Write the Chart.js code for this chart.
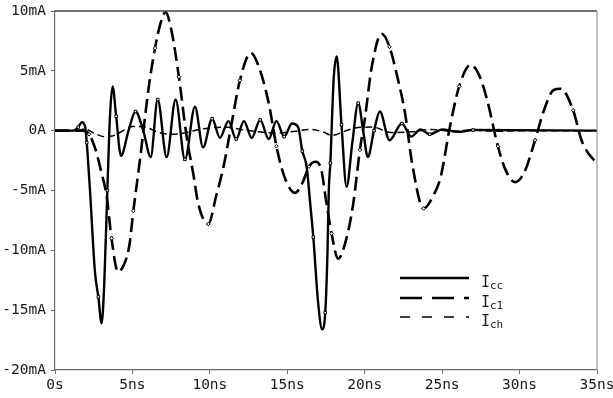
<!DOCTYPE html>
<html>
<head>
<meta charset="utf-8">
<title>Icc / Ic1 / Ich</title>
<script src="https://cdn.jsdelivr.net/npm/chart.js@4"></script>
<style>
  html, body { margin: 0; padding: 0; background: #fff; }
</style>
</head>
<body>
<canvas id="myChart" width="613" height="398"></canvas>
<script>
// axis ticks (time in ns, current in mA)
const xTicks = [0, 5, 10, 15, 20, 25, 30, 35];
const xLabels = ['0s', '5ns', '10ns', '15ns', '20ns', '25ns', '30ns', '35ns'];
const yTicks = [10, 5, 0, -5, -10, -15, -20];
const yLabels = ['10mA', '5mA', '0A', '-5mA', '-10mA', '-15mA', '-20mA'];
const seriesSubs = ['cc', 'c1', 'ch'];

// Icc (solid)
const iccTime = [0, 1.2, 1.5, 1.74, 1.95, 2.05, 2.26, 2.58, 2.8, 3.01, 3.18, 3.38, 3.55, 3.72, 3.95, 4.26, 4.75, 5.2, 5.7, 6.18, 6.63, 7.21, 7.79, 8.39, 9.04, 9.56, 10.15, 10.65, 11.2, 11.7, 12.2, 12.7, 13.25, 13.8, 14.3, 14.8, 15.3, 15.7, 15.97, 16.25, 16.46, 16.68, 17.0, 17.25, 17.45, 17.6, 17.68, 17.78, 18.0, 18.19, 18.5, 18.83, 19.2, 19.58, 19.9, 20.2, 20.6, 20.98, 21.6, 22.4, 23.0, 23.6, 24.2, 25.0, 26.0, 27.0, 35];
const iccVal = [0, 0, 0.3, 0.7, 0.3, -1, -5, -11.8, -13.9, -16.1, -12.8, -5, 1.2, 3.7, 1.2, -2.1, 0, 1.6, 0, -2.2, 2.6, -2.2, 2.6, -2.4, 2.0, -1.4, 1.0, -0.6, 0.8, -0.7, 0.8, -0.6, 0.9, -0.7, 0.8, -0.5, 0.6, 0.3, -1.7, -3, -5.8, -8.9, -14.5, -16.6, -15.2, -10, -5, -2.7, 4.4, 6.2, 0.5, -4.7, -1, 2.3, 0, -2.2, 0, 1.6, -0.8, 0.6, -0.5, 0.1, -0.3, 0.1, -0.1, 0.05, 0];

// Ic1 (long dash)
const ic1Time = [0, 1.8, 2.2, 2.6, 3.0, 3.34, 3.65, 4.07, 4.45, 4.8, 5.06, 5.5, 5.8, 6.07, 6.46, 6.8, 7.14, 7.53, 8.0, 8.5, 8.93, 9.25, 9.9, 10.4, 10.9, 11.35, 11.94, 12.65, 13.2, 13.8, 14.3, 14.8, 15.5, 16.0, 16.4, 16.85, 17.2, 17.5, 17.86, 18.29, 18.8, 19.26, 19.69, 20.0, 20.45, 21.09, 21.6, 22.16, 22.6, 23.07, 23.8, 24.4, 24.9, 25.5, 26.1, 26.84, 27.4, 27.9, 28.6, 29.1, 29.7, 30.3, 31.0, 31.6, 32.2, 32.65, 33.46, 34.0, 34.5, 35];
const ic1Val = [0, 0, -0.3, -1.5, -3.5, -5.5, -9, -11.8, -11.2, -9.6, -6.7, -2.3, 1.0, 3.8, 6.9, 8.9, 9.9, 8.3, 4.5, -0.5, -3.6, -6.1, -7.8, -5.5, -2.9, 0.2, 4.2, 6.5, 5.2, 2.3, -1.3, -3.8, -5.2, -4.3, -3.0, -2.6, -3.3, -5.8, -8.6, -10.7, -9.1, -6.1, -1.6, 0.9, 5.3, 8.1, 7.0, 4.2, 1.5, -2.8, -6.5, -5.5, -3.9, 0.3, 3.7, 5.5, 4.6, 2.6, -1.3, -3.3, -4.3, -3.5, -0.8, 1.8, 3.4, 3.5, 1.7, -0.8, -2.0, -2.7];

// Ich (short dash)
const ichTime = [0, 1.5, 1.9, 2.5, 3.2, 3.7, 4.2, 5.0, 5.8, 6.7, 7.6, 8.5, 9.3, 10.2, 11.0, 12.0, 13.2, 14.3, 15.5, 16.5, 17.3, 17.9, 18.6, 19.3, 20.5, 21.7, 23.0, 24.3, 25.6, 27.0, 28.5, 30, 35];
const ichVal = [0, 0, 0.15, -0.2, -0.5, -0.45, -0.15, 0.35, 0.3, -0.15, -0.3, -0.15, 0.1, 0.25, 0.3, 0.1, -0.1, -0.2, -0.05, 0.1, -0.1, -0.4, -0.1, 0.2, 0.3, -0.15, -0.1, 0.1, -0.05, 0.05, -0.05, 0, 0];

const toPoints = (ts, vs) => ts.map((t, i) => ({ x: t, y: vs[i] }));
const tickFont = { family: 'DejaVu Sans Mono', size: 14.5 };
const inkColor = '#1a1a1a';
const axisColor = '#6e6e6e';

function series(label, ts, vs, width, dash, style, every) {
    return {
        label: label,
        data: toPoints(ts, vs),
        borderColor: '#000',
        borderWidth: width,
        borderDash: dash,
        fill: false,
        cubicInterpolationMode: 'monotone',
        pointStyle: style,
        pointRadius: ctx => (every && ctx.dataIndex % every === 2 ? 1.8 : 0),
        pointBackgroundColor: '#fff',
        pointBorderColor: '#000',
        pointBorderWidth: 1
    };
}

// frame on top/right plus the hand-drawn legend with subscripts
const extras = {
    id: 'extras',
    afterDatasetsDraw(chart) {
        const { ctx, chartArea: a } = chart;
        ctx.save();
        ctx.setLineDash([]);
        ctx.lineWidth = 1.5;
        ctx.strokeStyle = '#444';
        ctx.beginPath(); ctx.moveTo(a.left, a.top); ctx.lineTo(a.right, a.top); ctx.stroke();
        ctx.lineWidth = 1.2;
        ctx.strokeStyle = '#999';
        ctx.beginPath(); ctx.moveTo(a.right, a.top); ctx.lineTo(a.right, a.bottom); ctx.stroke();

        const legendDash = [[], [22, 10], [10, 12]];
        const legendWidth = [2.6, 2.6, 1.5];
        const rows = [278, 298, 317];
        rows.forEach((y, i) => {
            ctx.lineWidth = legendWidth[i];
            ctx.strokeStyle = '#000';
            ctx.setLineDash(legendDash[i]);
            ctx.beginPath(); ctx.moveTo(400, y); ctx.lineTo(469, y); ctx.stroke();
            ctx.setLineDash([]);
            ctx.fillStyle = inkColor;
            ctx.textBaseline = 'alphabetic';
            ctx.textAlign = 'left';
            ctx.font = '15px "DejaVu Sans Mono"';
            ctx.fillText('I', 481, y + 8.5);
            ctx.font = '11px "DejaVu Sans Mono"';
            ctx.fillText(seriesSubs[i], 490, y + 10.5);
        });
        ctx.restore();
    }
};

const myChart = new Chart(document.getElementById('myChart'), {
    type: 'line',
    data: {
        datasets: [
            series('Icc', iccTime, iccVal, 2.4, [], 'rect', 3),
            series('Ic1', ic1Time, ic1Val, 2.6, [14, 6], 'rectRot', 4),
            series('Ich', ichTime, ichVal, 1.5, [7, 4], 'rect', 0)
        ]
    },
    options: {
        responsive: false,
        animation: false,
        layout: { padding: { top: 11, right: 16, left: 0, bottom: 0 } },
        plugins: { legend: { display: false }, tooltip: { enabled: false } },
        scales: {
            x: {
                type: 'linear',
                min: 0,
                max: 35,
                ticks: {
                    stepSize: 5,
                    autoSkip: false,
                    maxRotation: 0,
                    padding: 3,
                    color: inkColor,
                    font: tickFont,
                    callback: v => xLabels[xTicks.indexOf(v)]
                },
                grid: { drawOnChartArea: false, tickLength: 4, color: axisColor, tickColor: axisColor },
                border: { color: axisColor, width: 1.2 },
                afterFit(s) { s.height = 28; s.paddingLeft = 0; s.paddingRight = 0; }
            },
            y: {
                min: -20,
                max: 10,
                ticks: {
                    stepSize: 5,
                    padding: 5,
                    color: inkColor,
                    font: tickFont,
                    callback: v => yLabels[yTicks.indexOf(v)]
                },
                grid: { drawOnChartArea: false, tickLength: 4, color: axisColor, tickColor: axisColor },
                border: { color: axisColor, width: 1.2 },
                afterFit(s) { s.width = 55; s.paddingTop = 0; s.paddingBottom = 0; }
            }
        }
    },
    plugins: [extras]
});
</script>
</body>
</html>
